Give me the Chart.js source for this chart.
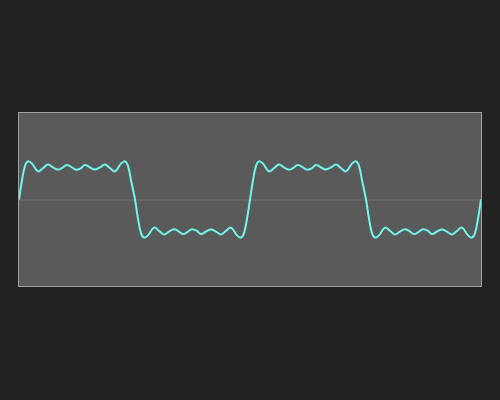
<!DOCTYPE html>
<html><head><script src="https://cdn.jsdelivr.net/npm/chart.js@4"></script>
<style>html,body{margin:0;background:#222;}#w{width:500px;height:400px;}</style></head>
<body><div id="w"><canvas id="c"></canvas></div>
<script>
const xs = [0,3,6,9,13,19,24,29,34,39,43,48,53,57,62,66,71,76,81,86,91,96,102,106,109,112,
116,119,122,125,129,135,140,145,150,155,159,164,169,173,178,182,187,192,197,202,207,212,218,222,225,228,
231,234,237,240,244,250,255,260,265,270,274,279,284,288,293,297,302,307,312,317,322,327,333,337,340,343,
347,350,353,356,360,366,371,376,381,386,390,395,400,404,409,413,418,423,428,433,438,443,449,453,456,459,462];
const ys = [0,0.6,1.05,1.19,1.12,0.88,0.98,1.09,1.0,0.93,0.98,1.08,1.0,0.93,0.98,1.08,1.0,0.94,1.0,1.09,0.98,0.88,1.12,1.19,1.05,0.6,
0,-0.6,-1.05,-1.19,-1.12,-0.88,-0.98,-1.09,-1.0,-0.93,-0.98,-1.08,-1.0,-0.93,-0.98,-1.08,-1.0,-0.94,-1.0,-1.09,-0.98,-0.88,-1.12,-1.19,-1.05,-0.6,
0,0.6,1.05,1.19,1.12,0.88,0.98,1.09,1.0,0.93,0.98,1.08,1.0,0.93,0.98,1.08,1.0,0.94,1.0,1.09,0.98,0.88,1.12,1.19,1.05,0.6,
0,-0.6,-1.05,-1.19,-1.12,-0.88,-0.98,-1.09,-1.0,-0.93,-0.98,-1.08,-1.0,-0.93,-0.98,-1.08,-1.0,-0.94,-1.0,-1.09,-0.98,-0.88,-1.12,-1.19,-1.05,-0.6,0];
const bg = {id:'bg',beforeDatasetsDraw(ch){const {ctx,chartArea:a}=ch;ctx.save();
ctx.fillStyle='#5a5a5a';ctx.fillRect(a.left,a.top,a.width,a.height);
const y0=ch.scales.y.getPixelForValue(0);ctx.strokeStyle='#6e6e6e';ctx.lineWidth=1;
ctx.beginPath();ctx.moveTo(a.left,y0+0.5);ctx.lineTo(a.right,y0+0.5);ctx.stroke();
ctx.strokeStyle='#a0a0a0';ctx.strokeRect(a.left-0.5,a.top-0.5,a.width+1,a.height+1);ctx.restore();}};
new Chart(document.getElementById('c'),{type:'line',
data:{datasets:[{data:xs.map((x,i)=>({x,y:ys[i]})),borderColor:'#6ff7ec',borderWidth:2,pointRadius:0,tension:0.4,fill:false}]},
options:{responsive:true,maintainAspectRatio:false,animation:false,
layout:{padding:{left:19,right:19,top:113,bottom:114}},
plugins:{legend:{display:false},tooltip:{enabled:false}},
scales:{x:{type:'linear',min:0,max:462,display:false},y:{min:-2.7,max:2.7,display:false}}},
plugins:[bg]});
</script></body></html>
